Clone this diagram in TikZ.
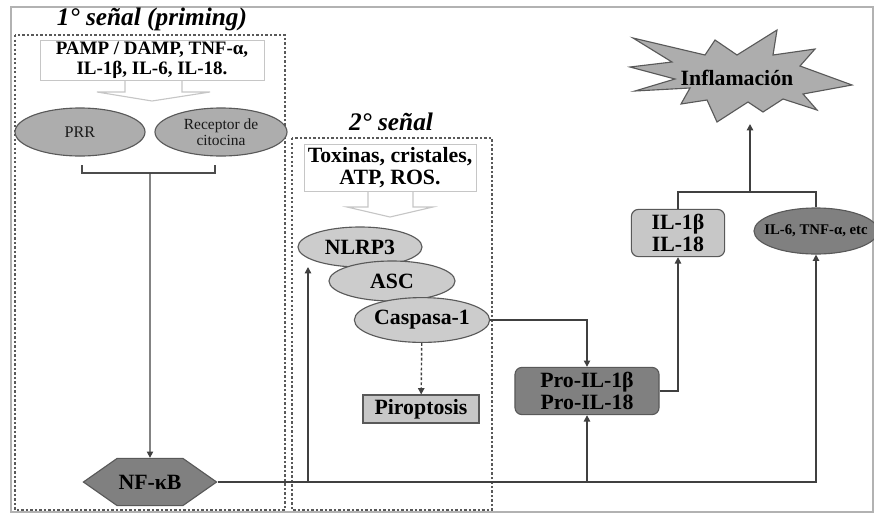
\documentclass[tikz,border=0pt]{standalone}
\usepackage{fontspec}
\setmainfont{Liberation Serif}
\usetikzlibrary{arrows.meta}
\usetikzlibrary{shapes.geometric}
\usetikzlibrary{shapes.symbols}

\definecolor{grislinea}{gray}{0.25}
\definecolor{grisborde}{gray}{0.35}
\definecolor{grisclaro}{gray}{0.80}
\definecolor{grismedio}{gray}{0.68}
\definecolor{grisoscuro}{gray}{0.50}
\definecolor{grisrama}{gray}{0.78}

\begin{document}
\begin{tikzpicture}[x=0.025cm, y=-0.025cm, >={Triangle[length=4.5pt, width=4.5pt]},
  every node/.style={font=\bfseries\fontsize{15.5}{15.5}\selectfont, align=center, inner sep=1pt},
  linea/.style={line width=1pt, draw=grislinea},
  titulo/.style={font=\bfseries\itshape\fontsize{18}{18}\selectfont},
  punteado/.style={draw=grisborde, line width=1.4pt, dash pattern=on 1.6pt off 1.6pt},
  caja/.style={rectangle, draw=gray!45, fill=white, line width=0.6pt},
  hueca/.style={draw=gray!45, line width=0.8pt},
  ovalo/.style={ellipse, draw=grisborde, line width=0.8pt},
  redondo/.style={rectangle, rounded corners=5pt, draw=grisborde, line width=0.8pt}]
  \useasboundingbox (0,0) rectangle (874,514);

  % marco y zonas punteadas
  \draw[gray!60, line width=1pt] (11,7) rectangle (873,512);
  \draw[punteado] (15,35) rectangle (285,510);
  \draw[punteado] (292,138) rectangle (492,510);

  % 1a senal
  \node[titulo] (tit1) at (152,19) {1° señal (priming)};
  \node[caja, minimum width=5.6cm, minimum height=1cm, font=\bfseries\fontsize{13.5}{14.5}\selectfont] (pamp) at (152,60)
    {PAMP / DAMP, TNF-α,\\IL-1β, IL-6, IL-18.};
  \draw[hueca] (125,80) -- (125,92) -- (97,92) -- (152,101) -- (210,92) -- (182,92) -- (182,80);
  \node[ovalo, fill=grismedio, minimum width=3.25cm, minimum height=1.2cm,
    font=\fontsize{11.5}{11}\selectfont, text=gray!20!black] (prr) at (80,132) {PRR};
  \node[ovalo, fill=grismedio, minimum width=3.3cm, minimum height=1.2cm, inner sep=0pt,
    font=\fontsize{11}{11}\selectfont, text=gray!20!black] (recep) at (221,132) {Receptor de\\citocina};
  \draw[linea, gray!60!black] (82,165) -- (82,173) -- (215,173) -- (215,165);
  \coordinate (llave) at (150,173);
  \node[signal, signal to=east and west, signal pointer angle=70, draw=grisborde, fill=grisoscuro,
    line width=0.8pt, minimum width=3cm, minimum height=1.18cm] (nfkb) at (150,482) {NF-κB};
  \draw[linea, ->] (llave) -- (nfkb);

  % 2a senal
  \node[titulo] (tit2) at (391,122) {2° señal};
  \node[caja, minimum width=4.3cm, minimum height=1.18cm] (toxinas) at (390,168)
    {Toxinas, cristales,\\ATP, ROS.};
  \draw[hueca] (368,192) -- (368,207) -- (347,207) -- (390,217) -- (433,207) -- (413,207) -- (413,192);
  \node[ovalo, fill=grisclaro, minimum width=3.1cm, minimum height=1cm, inner sep=0pt] (nlrp3) at (360,247) {NLRP3};
  \node[ovalo, fill=grisclaro, minimum width=3.15cm, minimum height=1cm, inner sep=0pt] (asc) at (392,281) {ASC};
  \node[ovalo, fill=grisclaro, minimum width=3.15cm, minimum height=1.12cm, inner sep=0pt] (casp) at (422,320) {Caspasa-1};
  \node[rectangle, draw=grisborde, fill=grisrama, line width=0.8pt,
    minimum width=2.9cm, minimum height=0.7cm] (pirop) at (421,409) {Piroptosis};
  \draw[linea, ->, dash pattern=on 2pt off 1.5pt] (casp) -- (pirop);

  % citocinas
  \node[redondo, fill=grisoscuro, minimum width=3.6cm, minimum height=1.18cm] (proil) at (587,391)
    {Pro-IL-1β\\Pro-IL-18};
  \node[redondo, fill=grisrama, minimum width=2.33cm, minimum height=1.18cm] (il) at (678,233)
    {IL-1β\\IL-18};
  \node[ovalo, fill=grisoscuro, minimum width=3.1cm, minimum height=1.15cm, inner xsep=-0.45cm,
    font=\bfseries\fontsize{10.5}{10.5}\selectfont] (otras) at (816,231) {IL-6, TNF-α, etc};

  % inflamacion
  \draw[draw=grisborde, fill=grismedio, line width=0.8pt]
    (633,38) -- (705,55) -- (715,40) -- (737,55) -- (777,30) -- (773,55) -- (815,49)
    -- (800,66) -- (852,85) -- (803,94) -- (817,110) -- (783,99) -- (763,112)
    -- (748,102) -- (717,122) -- (707,100) -- (681,104) -- (690,88) -- (635,91)
    -- (675,79) -- (630,67) -- (672,62) -- cycle;
  \node (infl) at (737,78) {Inflamación};
  \coordinate (pico) at (750,124);
  \coordinate (union) at (750,192);

  % conexiones
  \draw[linea, ->] (nfkb.east) -| (otras.south);
  \draw[linea, ->] (nfkb.east -| 308,0) -- (308,267);
  \draw[linea, ->] (proil.south |- nfkb.east) -- (proil.south);
  \draw[linea, ->] (casp.east) -| (proil.north);
  \draw[linea, ->] (proil.east) -| (il.south);
  \draw[linea] (il.north) |- (union) -| (otras.north);
  \draw[linea, ->] (union) -- (pico);
\end{tikzpicture}
\end{document}
